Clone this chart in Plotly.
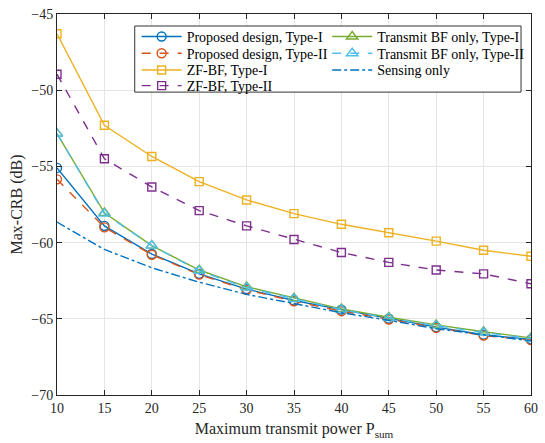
import plotly.graph_objects as go

# Transmit power budget (x axis)
p_sum = [10, 15, 20, 25, 30, 35, 40, 45, 50, 55, 60]

# Max-CRB values in dB for each scheme
proposed_t1 = [-55.1, -58.9, -60.75, -62.05, -63.05, -63.8, -64.4, -65.0, -65.55, -66.05, -66.35]
proposed_t2 = [-55.85, -59.0, -60.8, -62.1, -63.1, -63.85, -64.5, -65.05, -65.6, -66.1, -66.4]
zf_t1 = [-46.3, -52.3, -54.35, -56.0, -57.2, -58.1, -58.8, -59.35, -59.9, -60.5, -60.9]
zf_t2 = [-48.95, -54.5, -56.35, -57.9, -58.9, -59.8, -60.65, -61.3, -61.8, -62.05, -62.7]
tbf_t1 = [-52.85, -58.05, -60.2, -61.8, -62.9, -63.65, -64.35, -64.9, -65.4, -65.85, -66.25]
tbf_t2 = [-52.85, -58.1, -60.2, -61.85, -62.95, -63.7, -64.4, -64.95, -65.45, -65.9, -66.3]
sensing = [-58.65, -60.45, -61.65, -62.6, -63.4, -64.0, -64.6, -65.1, -65.65, -66.05, -66.45]

FONT = "Liberation Serif"
AX = "#262626"

# one single-entry legend per row, laid out as two columns inside a boxed frame
COL_X = [0.168, 0.570]
ROW_Y = [0.940, 0.896, 0.852, 0.811]

fig = go.Figure()
legend_layout = {}
n_leg = 0


def add(y, name, color, symbol, dash, col, row, msize=9):
    global n_leg
    n_leg += 1
    key = "legend" if n_leg == 1 else f"legend{n_leg}"
    mode = "lines+markers" if symbol else "lines"
    fig.add_trace(go.Scatter(
        x=p_sum, y=y, name=name, mode=mode, legend=key,
        line=dict(color=color, width=1.4, dash=dash),
        marker=dict(symbol=symbol or "circle", size=msize,
                    color=color, line=dict(color=color, width=1.4)),
    ))
    legend_layout[key] = dict(
        x=COL_X[col], y=ROW_Y[row], xanchor="left", yanchor="middle",
        font=dict(family=FONT, size=14, color="#000000"),
        bgcolor="rgba(0,0,0,0)", borderwidth=0, itemwidth=40,
    )


add(proposed_t1, "Proposed design, Type-I", "#0072BD", "circle-open", "solid", 0, 0)
add(proposed_t2, "Proposed design, Type-II", "#D95319", "circle-open", "dash", 0, 1)
add(zf_t1, "ZF-BF, Type-I", "#EDB120", "square-open", "solid", 0, 2, 8)
add(zf_t2, "ZF-BF, Type-II", "#7E2F8E", "square-open", "dash", 0, 3, 8)
add(tbf_t1, "Transmit BF only, Type-I", "#77AC30", "triangle-up-open", "solid", 1, 0, 10)
add(tbf_t2, "Transmit BF only, Type-II", "#4DBEEE", "triangle-up-open", "dash", 1, 1, 10)
add(sensing, "Sensing only", "#0072BD", None, "dashdot", 1, 2)

fig.update_layout(
    width=545, height=443,
    margin=dict(l=57, r=7, t=14, b=48),
    paper_bgcolor="white", plot_bgcolor="white",
    font=dict(family=FONT, size=14, color=AX),
    showlegend=True,
    shapes=[dict(type="rect", xref="paper", yref="paper",
                 x0=0.164, x1=0.979, y0=0.795, y1=0.9685,
                 fillcolor="white", line=dict(color="#333333", width=1),
                 layer="above")],
    **legend_layout,
)

axis_common = dict(
    showline=True, linecolor=AX, linewidth=1, mirror="ticks",
    ticks="inside", ticklen=5, tickcolor=AX, tickwidth=1,
    showgrid=True, gridcolor="#e5e5e5", gridwidth=1,
    zeroline=False,
    tickfont=dict(family=FONT, size=14, color=AX),
)

fig.update_xaxes(
    range=[10, 60], tick0=10, dtick=5,
    title=dict(text="Maximum transmit power P<sub>sum</sub>",
               font=dict(family=FONT, size=16, color=AX), standoff=8),
    **axis_common,
)
fig.update_yaxes(
    range=[-70, -45], tick0=-70, dtick=5,
    title=dict(text="Max-CRB (dB)", font=dict(family=FONT, size=16, color=AX), standoff=4),
    **axis_common,
)

fig.write_html("out.html")
